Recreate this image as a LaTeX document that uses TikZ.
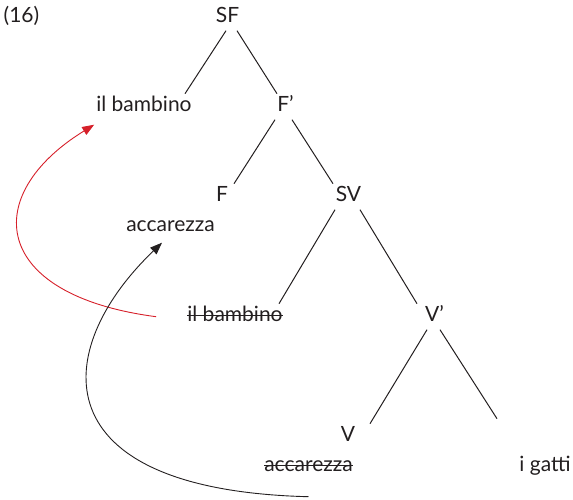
\documentclass[tikz,border=0pt]{standalone}
\usepackage{fontspec}
\setmainfont{Lato}
\usetikzlibrary{arrows.meta}
\definecolor{ink}{HTML}{231F20}
\definecolor{movered}{HTML}{D6202A}
\newcommand{\strk}[1]{\setbox0\hbox{#1}\rlap{\rule[0.27em]{\wd0}{1pt}}\box0}

\begin{document}
\begin{tikzpicture}[x=1pt,y=-1pt,
	lbl/.style={anchor=base,inner sep=0pt,outer ysep=4pt,text height=14pt,text depth=4pt,text=ink,font=\fontsize{21}{25}\selectfont},
	branch/.style={draw=ink,line width=1pt},
	move/.style={line width=0.9pt,-{Triangle[length=12pt,width=9pt]}}]
	\useasboundingbox (0,0) rectangle (573,499);

		\node[lbl] (n16) at (21.5, 22.7)  {(16)};
		\node[lbl] (sf)  at (227.5, 22.7) {SF};
		\node[lbl] (ilb) at (144, 111.7)  {il bambino};
		\node[lbl] (fp)  at (285.5, 111.7) {F’};
		\node[lbl] (f)   at (222, 201.7)  {F};
		\node[lbl] (acc) at (170.5, 231.7) {accarezza};
		\node[lbl] (sv)  at (348.5, 201.7) {SV};
		\node[lbl] (ilbt) at (235, 321.7) {\strk{il bambino}};
		\node[lbl] (vp)  at (434.5, 321.7) {V’};
		\node[lbl] (v)   at (348, 441.7)  {V};
		\node[lbl] (acct) at (308.5, 471.7) {\strk{accarezza}};
		\node[lbl] (ig)  at (545, 471.7)  {i gatti};

		\path[branch] ([xshift=-1.5]sf.south) edge ([xshift=41]ilb.north);
		\path[branch] ([xshift=9.5]sf.south)  edge ([xshift=-8.5]fp.north);
		\path[branch] ([xshift=-10.5]fp.south) edge ([xshift=12]f.north);
		\path[branch] ([xshift=6.5]fp.south)  edge ([xshift=-15.5]sv.north);
		\path[branch] ([xshift=-13.5]sv.south) edge ([xshift=44]ilbt.north);
		\path[branch] ([xshift=11.5]sv.south) edge ([xshift=-17.5]vp.north);
		\path[branch] ([xshift=-7.5]vp.south) edge ([xshift=22]v.north);
		\path[branch] ([xshift=5.5]vp.south)  edge ([shift={(-48,-35)}]ig.north);

		% movements
		\draw[move,movered] ([xshift=-31]ilbt.west) .. controls (-10,295) and (-20,195) .. ([shift={(-2,5)}]ilb.south west);
		\draw[move,ink] ([shift={(0,17)}]acct.south) .. controls (40,490) and (50,350) .. ([shift={(-8.5,3)}]acc.south);

\end{tikzpicture}
\end{document}
